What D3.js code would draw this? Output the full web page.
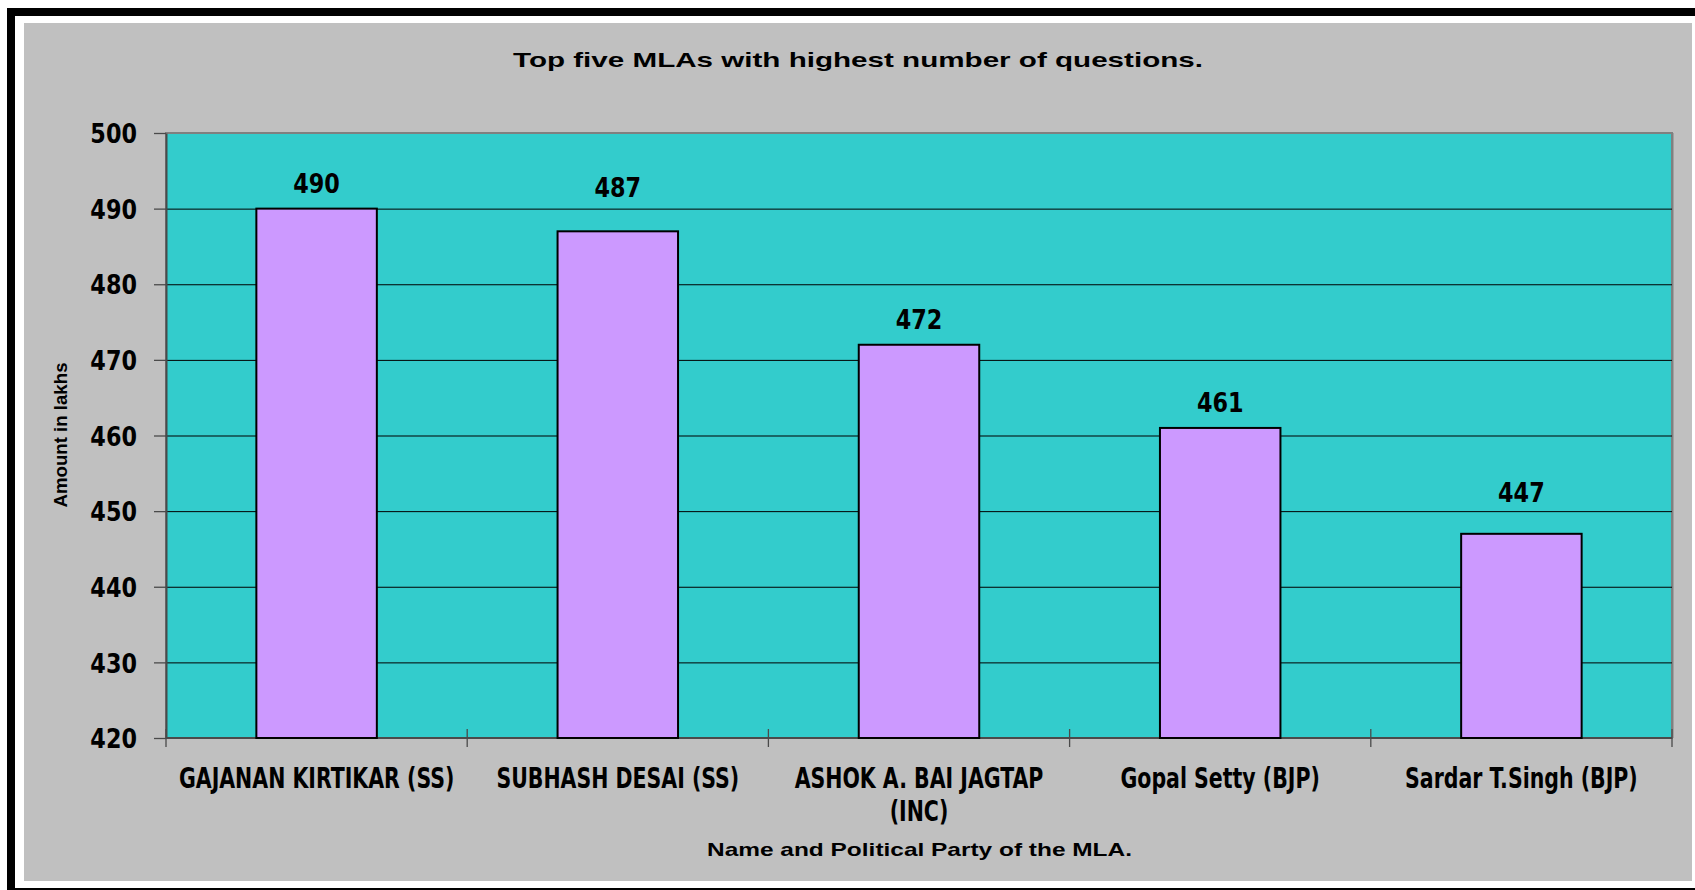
<!DOCTYPE html>
<html>
<head>
<meta charset="utf-8">
<script src="https://cdn.jsdelivr.net/npm/d3@7"></script>
<style>
  body { margin: 0; background: #fff; }
  svg { display: block; }
  .cond { font-family: "DejaVu Sans Condensed", "DejaVu Sans", sans-serif; font-stretch: condensed; font-weight: bold; fill: #000; }
  .arial { font-family: "Liberation Sans", Arial, sans-serif; font-weight: bold; fill: #000; }
</style>
</head>
<body>
<script>
// chart data
var categories = ["GAJANAN KIRTIKAR (SS)", "SUBHASH DESAI (SS)", "ASHOK A. BAI JAGTAP (INC)", "Gopal Setty (BJP)", "Sardar T.Singh (BJP)"];
var questions = [490, 487, 472, 461, 447];
var yTicks = [420, 430, 440, 450, 460, 470, 480, 490, 500];
var titleText = "Top five MLAs with highest number of questions.";
var xTitle = "Name and Political Party of the MLA.";
var yTitle = "Amount in lakhs";
// some data labels sit a bit higher in the original
var labelNudge = [0, 18, 0, 0, 16];

function draw() {
    var w = 1695;
    var h = 890;
    var plot = { left: 166, right: 1672, top: 133, bottom: 738 };

    var svg = d3.select("body")
        .append("svg")
        .attr("width", w)
        .attr("height", h);

    // frame: black, white, grey panel
    svg.append("rect").attr("x", 7).attr("y", 8).attr("width", w - 7).attr("height", h - 8).attr("fill", "#000");
    svg.append("rect").attr("x", 15).attr("y", 16).attr("width", w - 15).attr("height", 872).attr("fill", "#fff");
    svg.append("rect").attr("x", 24).attr("y", 23).attr("width", 1668).attr("height", 858).attr("fill", "#c0c0c0");

    var x = d3.scaleBand()
        .domain(categories)
        .range([plot.left, plot.right])
        .padding(0);

    var y = d3.scaleLinear()
        .domain([420, 500])
        .range([plot.bottom, plot.top]);

    // plot area background
    svg.append("rect")
        .attr("x", plot.left).attr("y", plot.top)
        .attr("width", plot.right - plot.left).attr("height", plot.bottom - plot.top)
        .attr("fill", "#33cccc");
    // little shadow on the right
    svg.append("line")
        .attr("x1", plot.right + 1.5).attr("x2", plot.right + 1.5)
        .attr("y1", plot.top).attr("y2", plot.bottom)
        .attr("stroke", "#a0a0a0").attr("stroke-width", 1);
    svg.append("rect")
        .attr("x", plot.left).attr("y", plot.top)
        .attr("width", plot.right - plot.left).attr("height", plot.bottom - plot.top)
        .attr("fill", "none").attr("stroke", "#808080").attr("stroke-width", 2);

    // gridlines
    var grid = svg.append("g")
        .attr("transform", "translate(" + plot.left + ",0)")
        .call(d3.axisLeft(y)
            .tickValues(yTicks.filter(function(d) { return d > 420 && d < 500; }))
            .tickSize(-(plot.right - plot.left))
            .tickFormat(""));
    grid.select(".domain").remove();
    grid.selectAll("line").attr("stroke", "#000").attr("stroke-width", 1);

    // y axis
    var yAxis = svg.append("g")
        .attr("transform", "translate(" + plot.left + ",0)")
        .call(d3.axisLeft(y).tickValues(yTicks).tickSize(12).tickSizeOuter(0));
    yAxis.select(".domain").attr("stroke", "#4a4a4a").attr("stroke-width", 2);
    yAxis.selectAll(".tick line").attr("stroke", "#4a4a4a").attr("stroke-width", 1.3);
    yAxis.selectAll(".tick text")
        .attr("class", "cond")
        .attr("x", 0)
        .attr("dy", "0.36em")
        .attr("text-anchor", "end")
        .style("font-size", "27px")
        .attr("transform", "translate(-29,0) scale(0.92,1)");

    // x axis line and boundary ticks
    svg.append("line")
        .attr("x1", plot.left).attr("x2", plot.right)
        .attr("y1", plot.bottom).attr("y2", plot.bottom)
        .attr("stroke", "#4a4a4a").attr("stroke-width", 2);
    var bounds = categories.map(function(c) { return x(c); }).concat([x.range()[1]]);
    svg.selectAll(".xtick")
        .data(bounds)
        .enter()
        .append("line")
        .attr("class", "xtick")
        .attr("x1", function(d) { return d; })
        .attr("x2", function(d) { return d; })
        .attr("y1", plot.bottom - 9)
        .attr("y2", plot.bottom + 9)
        .attr("stroke", "#4a4a4a").attr("stroke-width", 1.3);

    // bars
    var barW = x.bandwidth() * 0.4;
    svg.selectAll(".bar")
        .data(questions)
        .enter()
        .append("rect")
        .attr("class", "bar")
        .attr("x", function(d, i) { return x(categories[i]) + (x.bandwidth() - barW) / 2; })
        .attr("y", function(d) { return y(d); })
        .attr("width", barW)
        .attr("height", function(d) { return y(420) - y(d); })
        .attr("fill", "#cc99ff")
        .attr("stroke", "#000")
        .attr("stroke-width", 2);

    // value labels
    svg.selectAll(".val")
        .data(questions)
        .enter()
        .append("text")
        .attr("class", "cond")
        .attr("text-anchor", "middle")
        .style("font-size", "27px")
        .attr("transform", function(d, i) {
            var cx = x(categories[i]) + x.bandwidth() / 2;
            return "translate(" + cx + "," + (y(d) - 16 - labelNudge[i]) + ") scale(0.92,1)";
        })
        .text(function(d) { return d; });

    // category labels, wrapped to the band width
    var sx = 0.8;
    var maxW = x.bandwidth() * 0.97;
    categories.forEach(function(c) {
        var cx = x(c) + x.bandwidth() / 2;
        var t = svg.append("text")
            .attr("class", "cond")
            .attr("text-anchor", "middle")
            .style("font-size", "28.5px")
            .attr("transform", "translate(" + cx + "," + (plot.bottom + 50) + ") scale(" + sx + ",1)");
        var words = c.split(" ");
        var lines = [];
        var line = [];
        var probe = t.append("tspan").attr("x", 0);
        words.forEach(function(word) {
            line.push(word);
            probe.text(line.join(" "));
            if (probe.node().getComputedTextLength() * sx > maxW && line.length > 1) {
                line.pop();
                lines.push(line.join(" "));
                line = [word];
            }
        });
        lines.push(line.join(" "));
        probe.remove();
        lines.forEach(function(l, k) {
            t.append("tspan").attr("x", 0).attr("y", k * 33).text(l);
        });
    });

    // titles (the original text is stretched wide, so glyphs get stretched too)
    svg.append("text")
        .attr("class", "arial")
        .attr("x", 858).attr("y", 67)
        .attr("text-anchor", "middle")
        .style("font-size", "21px")
        .attr("textLength", 690).attr("lengthAdjust", "spacingAndGlyphs")
        .text(titleText);

    svg.append("text")
        .attr("class", "arial")
        .attr("x", 919.5).attr("y", 856)
        .attr("text-anchor", "middle")
        .style("font-size", "18.5px")
        .attr("textLength", 425).attr("lengthAdjust", "spacingAndGlyphs")
        .text(xTitle);

    svg.append("text")
        .attr("class", "arial")
        .attr("transform", "translate(67,435) rotate(-90)")
        .attr("text-anchor", "middle")
        .style("font-size", "18px")
        .attr("textLength", 145).attr("lengthAdjust", "spacingAndGlyphs")
        .text(yTitle);
}

window.onload = draw;
</script>
</body>
</html>
